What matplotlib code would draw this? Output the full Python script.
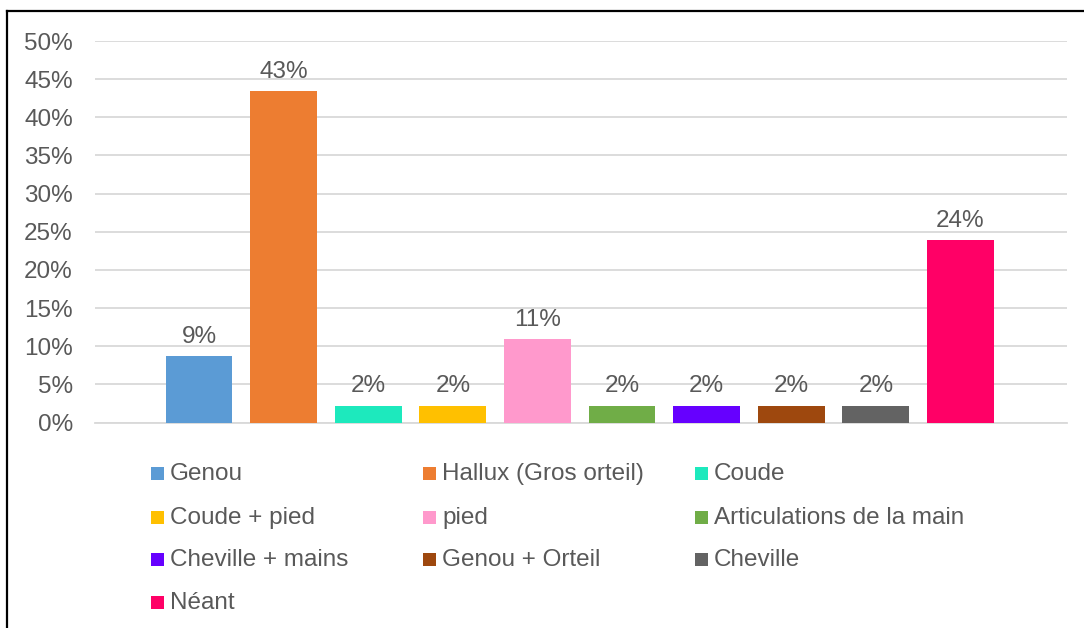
import matplotlib
matplotlib.use("Agg")
import matplotlib.pyplot as plt
from matplotlib.patches import Rectangle
from matplotlib.lines import Line2D
from matplotlib.ticker import FuncFormatter, MultipleLocator

plt.rcParams['font.family'] = ['Liberation Sans', 'DejaVu Sans']

categories = ["Genou", "Hallux (Gros orteil)", "Coude", "Coude + pied", "pied",
              "Articulations de la main", "Cheville + mains", "Genou + Orteil",
              "Cheville", "Néant"]
shares = [0.087, 0.434, 0.022, 0.022, 0.109, 0.022, 0.022, 0.022, 0.022, 0.239]
colors = ["#5B9BD5", "#ED7D31", "#1DE9BD", "#FFC000", "#FF99CC",
          "#70AD47", "#6600FF", "#9E480E", "#636363", "#FF0066"]

W, H = 1084, 628
fig = plt.figure(figsize=(W / 100, H / 100), dpi=100)
fig.patch.set_facecolor("white")

text_color = "#595959"
grid_color = "#D9D9D9"
fs = 17.5

ax = fig.add_axes([95 / W, 1 - 422.5 / H, (1067 - 95) / W, (422.5 - 41) / H])
x = list(range(len(categories)))
bars = ax.bar(x, shares, width=0.79, color=colors, zorder=3)

ax.set_ylim(0, 0.5)
ax.set_xlim(-1.23, len(categories) - 1 + 1.26)
ax.yaxis.set_major_locator(MultipleLocator(0.05))
ax.yaxis.set_major_formatter(FuncFormatter(lambda v, p: f"{round(v * 100):d}%"))
ax.tick_params(axis="y", length=0, pad=16, labelsize=fs, labelcolor=text_color)
ax.set_xticks([])
ax.grid(axis="y", color=grid_color, linewidth=1.3, zorder=0)
for s in ["top", "right", "left"]:
    ax.spines[s].set_visible(False)
ax.spines["bottom"].set_color(grid_color)
ax.spines["bottom"].set_linewidth(1.3)

for xi, v in zip(x, shares):
    ax.annotate(f"{round(v * 100):d}%", (xi, v), xytext=(0, 6),
                textcoords="offset points", ha="center", va="bottom",
                fontsize=fs, color=text_color)

# Legend laid out in rows of three, as fixed-width columns
col_x = [151, 423, 695]
row_y = [473, 517, 559, 602]
box = 13
for i, (name, c) in enumerate(zip(categories, colors)):
    r, col = divmod(i, 3)
    mx, my = col_x[col], row_y[r]
    fig.patches.append(Rectangle(((mx) / W, 1 - (my + box / 2) / H), box / W, box / H,
                                 transform=fig.transFigure, facecolor=c,
                                 edgecolor="none"))
    fig.text((mx + box + 6) / W, 1 - (my + 1) / H, name, fontsize=fs,
             color=text_color, ha="left", va="center")

# Outer frame
fig.lines.append(Line2D([7 / W, 7 / W], [0, 1 - 11 / H], transform=fig.transFigure,
                        color="black", linewidth=1.6))
fig.lines.append(Line2D([7 / W, 1], [1 - 11 / H, 1 - 11 / H], transform=fig.transFigure,
                        color="black", linewidth=1.6))

fig.savefig("out.png", dpi=100, facecolor="white")
